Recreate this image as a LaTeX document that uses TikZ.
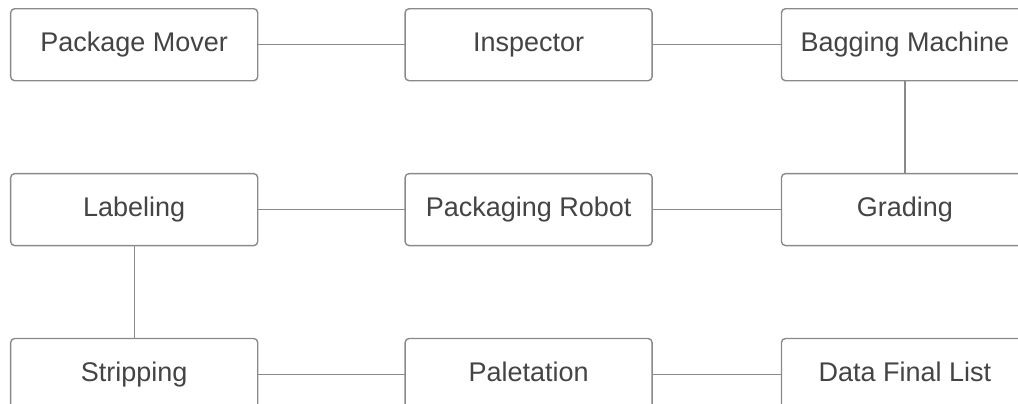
\documentclass[tikz,border=0pt]{standalone}
\usepackage{fontspec}
\setmainfont{Liberation Sans}
\usetikzlibrary{positioning, matrix}
\definecolor{edge}{HTML}{8A8A8A}
\definecolor{ink}{HTML}{444444}

\begin{document}
\begin{tikzpicture}[
  every node/.style={font=\fontsize{27}{32}\selectfont, text=ink},
  stage/.style={draw=edge, fill=white, rounded corners=4pt, minimum width=247pt,
                minimum height=72pt, inner sep=0pt, anchor=center, line width=1.4pt,
                text height=19.5pt, text depth=5.5pt},
  link/.style={draw=edge, line width=1.4pt}]
\useasboundingbox (0,0) rectangle (1018pt,-404pt);

\matrix (G) [matrix of nodes, nodes={stage}, inner sep=0pt, outer sep=0pt,
    column sep=146pt, row sep=91.5pt, anchor=north west,
    ampersand replacement=\&] at (10pt,-8pt) {
  |(mover)|{Package Mover}  \& |(inspect)|{Inspector}        \&[-18pt] |(bagging)|{Bagging Machine} \\
  |(label)|{Labeling}       \& |(robot)|{Packaging Robot}    \&[-18pt] |(grading)|{Grading} \\
  |(strip)|{Stripping}      \& |(palet)|{Paletation}         \&[-18pt] |(final)|{Data Final List} \\
};

\foreach \a/\b in {mover/inspect, inspect/bagging, bagging/grading, grading/robot,
                   robot/label, label/strip, strip/palet, palet/final}
  \draw[link] (\a) -- (\b);
\end{tikzpicture}
\end{document}
